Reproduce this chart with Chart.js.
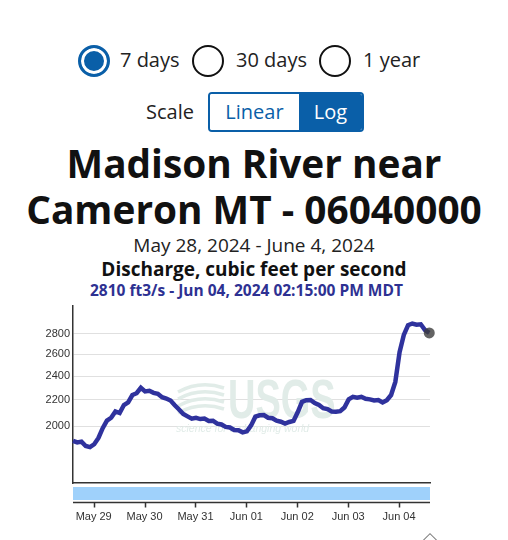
<!DOCTYPE html>
<html>
<head>
<meta charset="utf-8">
<script src="https://cdn.jsdelivr.net/npm/chart.js@4.4.1/dist/chart.umd.min.js"></script>
<style>
  body { margin: 0; width: 508px; height: 540px; background: #fff; overflow: hidden; position: relative;
         font-family: "Open Sans", sans-serif; color: #1a1a1a; }
  .abs { position: absolute; white-space: nowrap; }
  .radio { position: absolute; top: 45px; width: 28px; height: 28px; border: 2px solid #111; border-radius: 50%; box-sizing: content-box; }
  .radio.on { border: 3px solid #0a5fa8; width: 26px; height: 26px; background: #0a5fa8; box-shadow: inset 0 0 0 3px #fff; }
  .opt { top: 45px; font-size: 20px; line-height: 30px; color: #222; }
  .center { left: 0; width: 508px; text-align: center; }
  #toggle { position: absolute; left: 208px; top: 92px; width: 152px; height: 36px; border: 2px solid #0a5fa8; border-radius: 4px; display: flex; overflow: hidden; }
  #toggle div { font-size: 20px; line-height: 36px; text-align: center; }
  #chartBox { position: absolute; left: 0; top: 296px; width: 450px; height: 240px; }
  #chev { position: absolute; left: 425px; top: 535px; width: 9px; height: 9px; border-left: 1.5px solid #777; border-top: 1.5px solid #777; transform: rotate(45deg); }
</style>
</head>
<body>
<div class="radio on" style="left:78px"></div>
<div class="abs opt" style="left:120px">7 days</div>
<div class="radio" style="left:192px"></div>
<div class="abs opt" style="left:236px">30 days</div>
<div class="radio" style="left:319px"></div>
<div class="abs opt" style="left:363px">1 year</div>

<div class="abs" style="left:146px; top:96px; font-size:20px; line-height:32px; color:#222">Scale</div>
<div id="toggle">
  <div style="width:89px; color:#0a5fa8; background:#fff">Linear</div>
  <div style="flex:1; color:#fff; background:#0a5fa8">Log</div>
</div>

<div class="abs center" style="top:140px; font-size:38.8px; font-weight:700; line-height:46px; color:#111">Madison River near</div>
<div class="abs center" style="top:186px; font-size:38.8px; font-weight:700; line-height:46px; color:#111">Cameron MT - 06040000</div>
<div class="abs center" style="top:232px; font-size:19px; line-height:26px; color:#222">May 28, 2024 - June 4, 2024</div>
<div class="abs center" style="top:256px; font-size:19px; font-weight:700; line-height:26px; color:#111">Discharge, cubic feet per second</div>
<div class="abs" style="left:90px; top:280px; font-size:15.5px; font-weight:700; line-height:20px; color:#2e3192">2810 ft3/s - Jun 04, 2024 02:15:00 PM MDT</div>

<div id="chartBox"><canvas id="chart"></canvas></div>
<div id="chev"></div>

<script>
// =======================
// DATA (hours since May 28 00:00 MDT, discharge ft3/s)
// =======================
const startHour = 14.25;
const stepHours = 2;
const discharge = [
  1895, 1884, 1890, 1860, 1852, 1872, 1915, 1985, 2040, 2062,
  2110, 2098, 2160, 2180, 2240, 2255, 2300, 2270, 2275, 2258,
  2250, 2222, 2212, 2195, 2158, 2125, 2090, 2072, 2055, 2062,
  2052, 2056, 2038, 2040, 2018, 2012, 1994, 1990, 1972, 1970,
  1955, 1962, 2005, 2070, 2080, 2082, 2062, 2058, 2040, 2032,
  2018, 2030, 2038, 2105, 2185, 2198, 2200, 2175, 2160, 2135,
  2128, 2110, 2108, 2112, 2140, 2205, 2225, 2218, 2226, 2210,
  2205, 2196, 2200, 2180, 2198, 2240, 2350, 2620, 2790, 2890,
  2908, 2895, 2900, 2840, 2810
];
const dayTicks = [24, 48, 72, 96, 120, 144, 168];
const dayLabels = ["May 29", "May 30", "May 31", "Jun 01", "Jun 02", "Jun 03", "Jun 04"];
const yTicks = [2000, 2200, 2400, 2600, 2800];

const points = discharge.map((v, i) => ({ x: startHour + i * stepHours, y: v }));

// =======================
// EXTRA DRAWING (watermark, brush bar, lower axis)
// =======================
const extras = {
  id: "extras",
  beforeDatasetsDraw(chart) {
    // canvas starts 296px down the page
    const c = chart.ctx;
    c.save();
    c.fillStyle = "#e1ece8";
    c.save();
    c.translate(228, 122);
    c.scale(1, 1.45);
    c.font = "bold 38px 'Liberation Sans', Arial";
    c.fillText("USGS", 0, 0);
    c.restore();
    c.font = "italic 10.5px 'Liberation Sans', Arial";
    c.fillText("science for a changing world", 176, 136);
    c.strokeStyle = "#e1ece8";
    c.lineWidth = 3.5;
    for (let k = 0; k < 4; k++) {
      c.beginPath();
      c.moveTo(178, 96 + k * 7);
      c.quadraticCurveTo(200, 84 + k * 7, 224, 92 + k * 7);
      c.stroke();
    }
    c.restore();
  },
  afterDraw(chart) {
    const c = chart.ctx;
    const a = chart.chartArea;
    const xs = chart.scales.x;
    c.save();
    c.fillStyle = "#9fd1fb";
    c.fillRect(a.left, a.bottom + 4, a.right - a.left, 13);
    c.strokeStyle = "#333";
    c.lineWidth = 1.5;
    c.beginPath();
    c.moveTo(a.left, a.bottom + 19.5);
    c.lineTo(a.right, a.bottom + 19.5);
    dayTicks.forEach(t => {
      const px = Math.round(xs.getPixelForValue(t)) + 0.5;
      c.moveTo(px, a.bottom + 19.5);
      c.lineTo(px, a.bottom + 24.5);
    });
    c.stroke();
    c.restore();
  }
};

new Chart(document.getElementById("chart"), {
  type: "line",
  data: {
    datasets: [{
      data: points,
      borderColor: "#2f329d",
      borderWidth: 4.5,
      tension: 0,
      clip: false,
      pointRadius: points.map((p, i) => i === points.length - 1 ? 5.5 : 0),
      pointBackgroundColor: "rgba(60,60,60,0.8)",
      pointBorderWidth: 0
    }]
  },
  options: {
    responsive: true,
    maintainAspectRatio: false,
    animation: false,
    layout: { padding: { top: 10, right: 20, left: 0, bottom: 0 } },
    plugins: { legend: { display: false }, tooltip: { enabled: false } },
    scales: {
      x: {
        type: "linear",
        min: 14.25,
        max: 182.6,
        afterBuildTicks: s => { s.ticks = dayTicks.map(v => ({ value: v })); },
        afterFit: s => { s.height = 53; },
        grid: { display: true, drawOnChartArea: false, drawTicks: false },
        border: { color: "#333", width: 1.5 },
        ticks: {
          padding: 27,
          maxRotation: 0,
          autoSkip: false,
          color: "#333",
          font: { family: "'Liberation Sans', Arial", size: 11 },
          callback: v => dayLabels[dayTicks.indexOf(v)]
        }
      },
      y: {
        type: "logarithmic",
        min: 1625,
        max: 3100,
        afterBuildTicks: s => { s.ticks = yTicks.map(v => ({ value: v })); },
        afterFit: s => { s.width = 73; },
        grid: { color: "#e0e0e0", lineWidth: 1, drawTicks: false },
        border: { color: "#333", width: 1.5 },
        ticks: {
          padding: 3,
          color: "#333",
          font: { family: "'Liberation Sans', Arial", size: 11 },
          callback: v => String(v)
        }
      }
    }
  },
  plugins: [extras]
});
</script>
</body>
</html>
